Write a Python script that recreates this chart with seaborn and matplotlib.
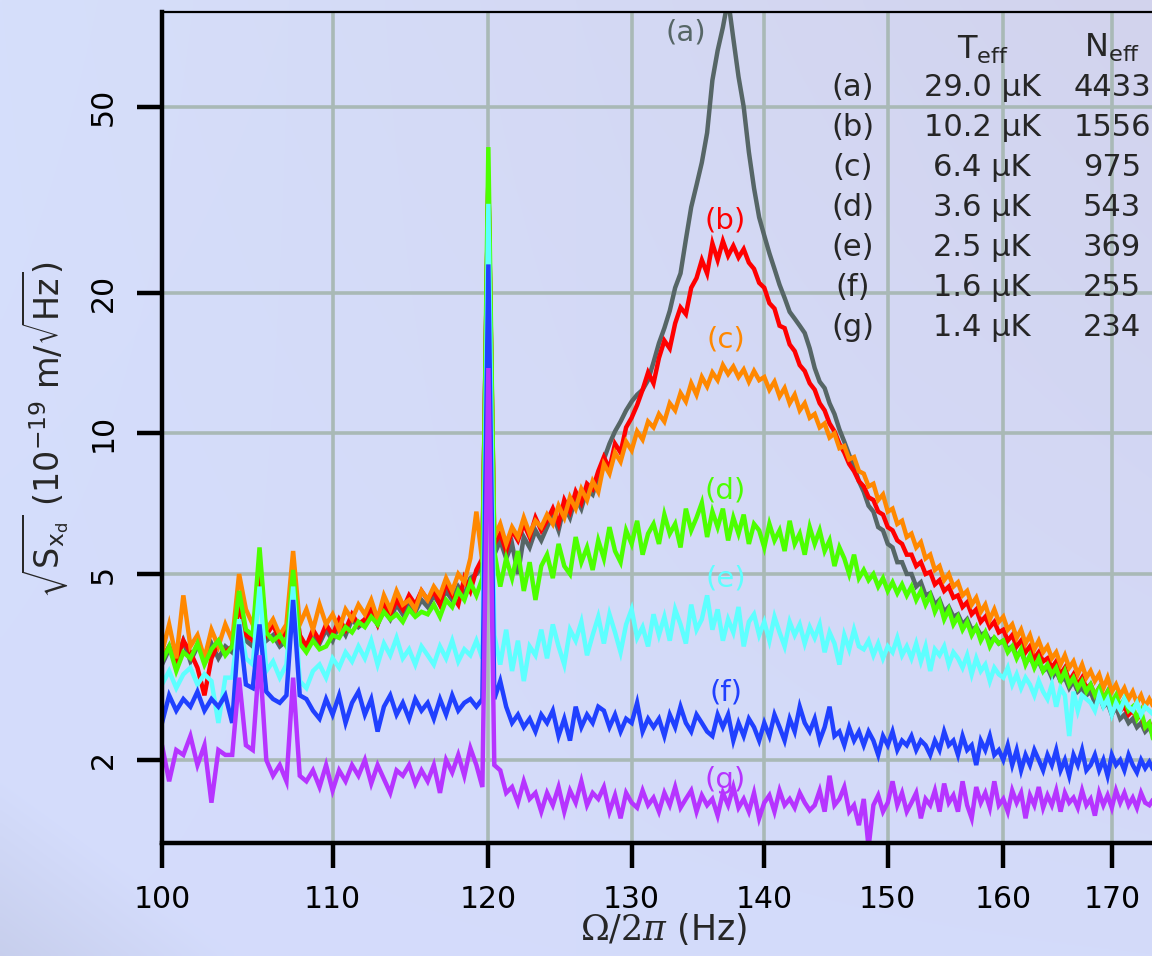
import numpy as np
import pandas as pd
import seaborn as sns
import matplotlib.pyplot as plt
from matplotlib.ticker import NullLocator

# ── Data ──────────────────────────────────────────────────────────────────────
# displacement spectra sampled on a 0.4 Hz grid, 100 … 174 Hz
freq = np.round(np.arange(100.0, 174.01, 0.4), 1)

spec_a = [
    3.2, 3.45, 3.3, 3.6, 3.25, 3.5, 3.35, 3.55, 3.3, 3.5,
    3.4, 4.4, 3.6, 3.5, 5.0, 3.6, 3.7, 3.5, 3.6, 4.9,
    3.6, 3.45, 3.7, 3.55, 3.8, 3.6, 3.9, 3.7, 4.0, 3.85,
    3.95, 4.15, 3.9, 4.2, 4.0, 4.3, 4.1, 4.35, 4.15, 4.4,
    4.25, 4.5, 4.3, 4.6, 4.4, 4.7, 4.5, 4.9, 5.0, 5.2,
    35.0, 5.5, 5.9, 5.4, 5.8, 5.0, 6.0, 5.7, 6.2, 5.9,
    6.3, 6.7, 6.2, 7.0, 6.6, 7.3, 6.9, 7.6, 7.4, 8.1,
    8.8, 9.5, 10.1, 10.6, 11.2, 11.7, 12.1, 12.4, 13.0, 14.2,
    15.6, 16.8, 18.3, 20.5, 22.0, 26.0, 30.5, 34.0, 38.0, 44.0,
    57.0, 66.0, 74.0, 85.0, 70.0, 58.0, 50.0, 40.0, 33.5, 29.0,
    26.5, 24.3, 22.5, 20.8, 19.5, 18.2, 17.6, 17.0, 16.4, 15.2,
    13.8, 12.9, 12.5, 11.6, 11.0, 10.2, 9.6, 9.0, 8.5, 7.9,
    7.5, 7.0, 6.8, 6.3, 6.2, 5.8, 5.7, 5.3, 5.3, 5.0,
    5.0, 4.7, 4.8, 4.5, 4.55, 4.3, 4.4, 4.15, 4.25, 4.05,
    4.1, 3.9, 4.0, 3.8, 3.85, 3.7, 3.75, 3.6, 3.65, 3.55,
    3.6, 3.45, 3.5, 3.35, 3.4, 3.25, 3.3, 3.2, 3.25, 3.1,
    3.15, 3.0, 3.1, 2.95, 3.0, 2.85, 2.95, 2.8, 2.85, 2.75,
    2.8, 2.65, 2.75, 2.6, 2.65, 2.5, 2.6, 2.45, 2.5, 2.4,
    2.45, 2.35, 2.4, 2.3, 2.35, 2.25,
]
spec_b = [
    3.3, 3.5, 3.2, 3.6, 3.4, 3.15, 2.75, 3.3, 3.55, 3.4,
    3.5, 4.3, 3.7, 3.6, 5.3, 3.7, 3.9, 3.6, 3.8, 4.8,
    3.7, 3.5, 3.8, 3.6, 3.9, 3.7, 4.0, 3.8, 4.1, 3.9,
    4.0, 4.2, 3.9, 4.3, 4.1, 4.4, 4.2, 4.5, 4.3, 4.6,
    4.4, 4.6, 4.3, 4.8, 4.5, 4.3, 4.9, 4.6, 5.1, 5.4,
    35.0, 5.8, 6.1, 5.6, 6.2, 5.9, 6.4, 6.0, 6.6, 6.2,
    6.5, 6.9, 6.4, 7.2, 6.8, 7.5, 7.1, 7.8, 7.6, 8.3,
    8.9, 8.4, 9.5, 9.1, 10.3, 10.8, 11.5, 12.4, 13.5, 12.8,
    14.5, 15.8, 15.2, 17.2, 18.6, 18.0, 20.5, 21.5, 23.5, 22.0,
    25.5, 23.5, 25.8, 24.0, 25.2, 23.8, 24.8, 23.2, 22.5, 21.0,
    20.5, 19.0, 18.5, 17.0, 16.8, 15.5, 15.0, 14.0, 13.6, 12.8,
    12.4, 11.6, 11.2, 10.5, 10.1, 9.5, 9.1, 8.6, 8.3, 7.9,
    7.7, 7.3, 7.2, 6.8, 6.7, 6.3, 6.2, 5.9, 5.8, 5.5,
    5.5, 5.2, 5.3, 5.0, 5.05, 4.75, 4.85, 4.6, 4.7, 4.45,
    4.5, 4.25, 4.35, 4.1, 4.2, 3.95, 4.05, 3.85, 3.95, 3.75,
    3.8, 3.6, 3.7, 3.5, 3.6, 3.4, 3.5, 3.3, 3.4, 3.25,
    3.3, 3.15, 3.25, 3.05, 3.15, 2.95, 3.05, 2.9, 3.0, 2.85,
    2.9, 2.75, 2.85, 2.7, 2.8, 2.6, 2.7, 2.55, 2.6, 2.5,
    2.55, 2.45, 2.5, 2.35, 2.4, 2.3,
]
spec_c = [
    3.4, 3.9, 3.3, 4.5, 3.5, 3.7, 3.3, 3.8, 3.5, 3.9,
    3.6, 5.0, 4.2, 3.9, 4.5, 3.8, 4.0, 3.7, 3.9, 5.6,
    3.9, 4.2, 3.8, 4.3, 3.9, 4.1, 3.8, 4.2, 4.0, 4.3,
    4.1, 4.4, 4.0, 4.5, 4.2, 4.6, 4.3, 4.4, 4.2, 4.6,
    4.4, 4.7, 4.5, 4.9, 4.6, 5.0, 4.8, 5.4, 6.8, 5.3,
    35.0, 6.0, 6.4, 5.8, 6.3, 6.0, 6.6, 6.1, 6.5, 6.3,
    6.7, 6.4, 7.0, 6.6, 7.3, 6.9, 7.6, 7.2, 7.9, 7.5,
    8.6, 8.2, 9.1, 8.7, 9.6, 9.2, 10.1, 9.7, 10.6, 10.3,
    11.0, 10.6, 11.6, 11.2, 12.2, 11.7, 12.8, 12.1, 13.2, 12.6,
    13.5, 13.0, 14.0, 13.4, 13.9, 13.2, 13.7, 12.9, 13.6, 13.0,
    13.2, 12.4, 12.9, 12.0, 12.5, 11.6, 12.1, 11.2, 11.6, 10.8,
    11.0, 10.3, 10.5, 9.8, 10.0, 9.3, 9.4, 8.8, 8.9, 8.3,
    8.2, 7.7, 7.8, 7.2, 7.4, 6.8, 6.9, 6.4, 6.5, 6.0,
    6.1, 5.7, 5.85, 5.4, 5.5, 5.1, 5.2, 4.85, 5.0, 4.7,
    4.8, 4.5, 4.6, 4.3, 4.45, 4.15, 4.3, 4.0, 4.2, 3.95,
    4.05, 3.8, 3.9, 3.65, 3.8, 3.55, 3.7, 3.45, 3.6, 3.4,
    3.5, 3.3, 3.4, 3.2, 3.35, 3.15, 3.25, 3.05, 3.2, 3.0,
    3.1, 2.95, 3.05, 2.85, 3.0, 2.8, 2.9, 2.75, 2.85, 2.7,
    2.8, 2.65, 2.75, 2.6, 2.7, 2.6,
]
spec_d = [
    3.25, 3.5, 3.1, 3.4, 3.3, 3.55, 3.2, 3.45, 3.6, 3.35,
    3.5, 4.6, 3.8, 3.7, 5.7, 3.75, 3.6, 3.7, 3.5, 5.1,
    3.55, 3.4, 3.6, 3.45, 3.5, 3.7, 3.65, 3.85, 3.75, 3.95,
    3.85, 4.05, 3.9, 4.15, 4.0, 4.1, 3.95, 4.2, 4.05, 4.15,
    4.1, 4.3, 4.05, 4.4, 4.25, 4.6, 4.4, 4.8, 4.5, 4.9,
    41.0, 5.6, 4.7, 5.4, 4.9, 5.6, 4.6, 5.3, 4.4, 5.2,
    5.5, 4.9, 5.8, 5.2, 5.0, 6.0, 5.3, 5.7, 5.1, 5.9,
    5.4, 6.3, 5.6, 5.3, 6.2, 5.8, 6.5, 5.5, 6.1, 6.4,
    5.8, 6.7, 6.1, 6.4, 5.7, 6.9, 6.2, 6.6, 7.1, 6.0,
    6.8, 6.3, 6.9, 5.9, 6.6, 6.1, 6.7, 5.8, 6.4, 6.2,
    5.7, 6.4, 5.9, 6.2, 5.6, 6.5, 5.8, 6.1, 5.5, 6.3,
    5.8, 6.2, 5.6, 5.9, 5.2, 5.7, 5.4, 5.0, 5.5, 4.9,
    5.1, 4.85, 5.0, 4.7, 4.9, 4.6, 4.8, 4.55, 4.75, 4.5,
    4.7, 4.4, 4.6, 4.3, 4.5, 4.15, 4.35, 4.0, 4.2, 3.9,
    4.05, 3.8, 3.95, 3.7, 3.85, 3.6, 3.75, 3.5, 3.65, 3.55,
    3.6, 3.4, 3.5, 3.3, 3.45, 3.2, 3.35, 3.15, 3.3, 3.1,
    3.2, 3.05, 3.15, 2.95, 3.1, 2.9, 3.0, 2.85, 2.95, 2.8,
    2.9, 2.75, 2.85, 2.7, 2.8, 2.65, 2.75, 2.6, 2.7, 2.55,
    2.6, 2.45, 2.55, 2.35, 2.4, 2.2,
]
spec_e = [
    2.9, 3.1, 2.85, 3.05, 3.15, 2.9, 3.05, 2.95, 2.4, 3.0,
    3.0, 4.0, 3.3, 3.2, 4.7, 3.1, 3.25, 3.0, 3.2, 4.7,
    2.95, 2.85, 3.1, 3.2, 3.0, 3.3, 3.15, 3.4, 3.25, 3.5,
    3.3, 3.6, 3.2, 3.55, 3.35, 3.65, 3.3, 3.45, 3.2, 3.5,
    3.35, 3.2, 3.5, 3.3, 3.6, 3.25, 3.45, 3.35, 3.6, 3.3,
    31.0, 3.7, 3.2, 3.8, 3.1, 3.6, 2.95, 3.5, 3.35, 3.8,
    3.3, 3.9, 3.5, 3.2, 3.8, 3.6, 3.95, 3.35, 3.7, 4.05,
    3.55, 4.1, 3.75, 3.4, 3.9, 4.2, 3.65, 3.85, 3.5, 4.1,
    3.7, 4.05, 3.6, 4.2, 3.9, 3.55, 4.3, 3.8, 4.0, 4.5,
    3.8, 4.2, 3.6, 4.0, 3.75, 4.25, 3.5, 3.95, 4.1, 3.7,
    3.95, 3.6, 4.05, 3.75, 3.5, 3.95, 3.7, 3.9, 3.55, 3.85,
    3.65, 3.9, 3.4, 3.75, 3.55, 3.2, 3.7, 3.45, 3.8, 3.5,
    3.45, 3.6, 3.35, 3.55, 3.3, 3.5, 3.4, 3.65, 3.35, 3.5,
    3.3, 3.55, 3.25, 3.5, 3.1, 3.45, 3.35, 3.5, 3.2, 3.4,
    3.3, 3.15, 3.35, 3.05, 3.3, 3.1, 3.2, 2.95, 3.15, 3.05,
    3.0, 3.15, 2.9, 3.05, 2.85, 3.0, 2.9, 2.75, 2.95, 2.8,
    2.7, 2.9, 2.6, 2.85, 2.75, 2.25, 2.8, 2.55, 2.75, 2.7,
    2.65, 2.55, 2.75, 2.6, 2.7, 2.5, 2.65, 2.55, 2.7, 2.6,
    2.55, 2.65, 2.5, 2.6, 2.55, 2.5,
]
spec_f = [
    2.4, 2.75, 2.55, 2.7, 2.6, 2.8, 2.55, 2.7, 2.6, 2.75,
    2.4, 3.9, 2.9, 2.85, 3.9, 2.8, 2.7, 2.65, 2.75, 4.4,
    2.75, 2.7, 2.55, 2.45, 2.7, 2.5, 2.75, 2.4, 2.65, 2.8,
    2.5, 2.7, 2.3, 2.6, 2.75, 2.5, 2.65, 2.45, 2.7, 2.55,
    2.65, 2.45, 2.7, 2.5, 2.75, 2.55, 2.65, 2.7, 2.6, 2.7,
    23.0, 2.7, 2.95, 2.6, 2.4, 2.5, 2.35, 2.45, 2.3, 2.5,
    2.4, 2.55, 2.25, 2.45, 2.2, 2.6, 2.35, 2.5, 2.4, 2.6,
    2.55, 2.35, 2.5, 2.3, 2.45, 2.4, 2.65, 2.3, 2.45, 2.35,
    2.45, 2.25, 2.5, 2.35, 2.6, 2.4, 2.3, 2.5, 2.4, 2.3,
    2.25, 2.5, 2.35, 2.5, 2.2, 2.4, 2.25, 2.45, 2.35, 2.2,
    2.4, 2.25, 2.5, 2.35, 2.2, 2.45, 2.3, 2.6, 2.4, 2.3,
    2.45, 2.2, 2.35, 2.6, 2.25, 2.3, 2.15, 2.35, 2.2, 2.3,
    2.15, 2.3, 2.2, 2.05, 2.25, 2.15, 2.3, 2.1, 2.2, 2.15,
    2.25, 2.1, 2.2, 2.15, 2.05, 2.2, 2.1, 2.3, 2.15, 2.2,
    2.05, 2.25, 2.1, 2.15, 1.95, 2.2, 2.1, 2.25, 2.05, 2.1,
    2.0, 2.15, 1.95, 2.1, 1.9, 2.05, 1.95, 2.1, 2.0, 1.9,
    2.05, 1.95, 2.1, 1.9, 2.0, 1.85, 2.05, 1.95, 2.1, 1.9,
    1.95, 2.05, 1.9, 2.0, 1.85, 2.05, 1.95, 2.0, 1.9, 2.05,
    1.95, 1.88, 2.0, 1.92, 1.98, 1.9,
]
spec_g = [
    2.15, 1.8, 2.1, 2.05, 2.25, 1.95, 2.15, 1.62, 2.1, 2.05,
    2.05, 3.0, 2.15, 2.1, 3.35, 2.0, 1.85, 1.95, 1.8, 3.0,
    1.85, 1.8, 1.9, 1.75, 1.95, 1.72, 1.9, 1.8, 1.95, 1.85,
    2.0, 1.78, 1.95, 1.82, 1.7, 1.9, 1.85, 1.95, 1.78, 1.9,
    1.8, 1.95, 1.7, 2.0, 1.88, 2.05, 1.85, 2.12, 1.95, 1.75,
    13.8, 1.95, 1.9, 1.7, 1.75, 1.62, 1.8, 1.65, 1.7, 1.55,
    1.7, 1.6, 1.75, 1.55, 1.72, 1.62, 1.8, 1.6, 1.7, 1.65,
    1.75, 1.55, 1.68, 1.5, 1.7, 1.62, 1.58, 1.72, 1.6, 1.66,
    1.55, 1.7, 1.6, 1.75, 1.58, 1.65, 1.72, 1.55, 1.68, 1.6,
    1.65, 1.52, 1.7, 1.6, 1.75, 1.58, 1.65, 1.55, 1.7, 1.5,
    1.62, 1.68, 1.55, 1.72, 1.6, 1.65, 1.58, 1.7, 1.62, 1.56,
    1.6, 1.72, 1.55, 1.85, 1.6, 1.65, 1.75, 1.55, 1.6, 1.45,
    1.65, 1.3, 1.6, 1.68, 1.55, 1.62, 1.8, 1.6, 1.7, 1.55,
    1.62, 1.7, 1.5, 1.65, 1.6, 1.72, 1.55, 1.78, 1.62, 1.68,
    1.55, 1.8, 1.6, 1.5, 1.75, 1.62, 1.7, 1.58, 1.8, 1.6,
    1.65, 1.55, 1.72, 1.62, 1.7, 1.5, 1.68, 1.6, 1.75, 1.58,
    1.68, 1.6, 1.72, 1.55, 1.7, 1.62, 1.66, 1.58, 1.72, 1.6,
    1.65, 1.52, 1.7, 1.6, 1.68, 1.58, 1.72, 1.62, 1.7, 1.6,
    1.66, 1.58, 1.7, 1.62, 1.6, 1.65,
]

curve_keys   = ["a", "b", "c", "d", "e", "f", "g"]
curve_colors = ["#566666", "#ff0000", "#ff8800", "#4cff00", "#5effff", "#2040ff", "#b634ff"]
row_tags = ["(a)", "(b)", "(c)", "(d)", "(e)", "(f)", "(g)"]
t_eff    = ["29.0 μK", "10.2 μK", "6.4 μK", "3.6 μK", "2.5 μK", "1.6 μK", "1.4 μK"]
n_eff    = ["4433", "1556", "975", "543", "369", "255", "234"]
x_ticks  = [100, 110, 120, 130, 140, 150, 160, 170]
y_ticks  = [2, 5, 10, 20, 50]

spectra = [spec_a, spec_b, spec_c, spec_d, spec_e, spec_f, spec_g]
df = pd.concat(
    [pd.DataFrame({"freq": freq[:len(s)], "value": s, "curve": k})
     for k, s in zip(curve_keys, spectra)],
    ignore_index=True,
)

# ── Style ─────────────────────────────────────────────────────────────────────
sns.set_style("ticks")
plt.rcParams["font.family"] = ["DejaVu Sans"]
plt.rcParams["mathtext.fontset"] = "dejavusans"

W, H = 1152, 956
fig = plt.figure(figsize=(W / 100, H / 100), dpi=100)

# soft background gradient (light blue, lavender towards the top right)
bg = fig.add_axes([0, 0, 1, 1], zorder=-10)
yy, xx = np.mgrid[0:1:240j, 0:1:288j]
tl = np.array([214, 223, 251]); tr = np.array([210, 211, 237])
bl = np.array([212, 220, 252]); br = np.array([212, 219, 250])
img = (tl * ((1 - xx) * (1 - yy))[..., None] + tr * (xx * (1 - yy))[..., None]
       + bl * ((1 - xx) * yy)[..., None] + br * (xx * yy)[..., None])
corner = np.clip(1 - (xx * W + (1 - yy) * H * 1.3) / 230, 0, 1)
img = img * (1 - 0.06 * corner)[..., None]
bg.imshow(img / 255, aspect="auto", extent=[0, 1, 0, 1], interpolation="bilinear")
bg.set_axis_off()

ax = fig.add_axes([162 / W, 1 - 843 / H, (W - 162) / W, (843 - 12) / H])
ax.patch.set_alpha(0)

sns.lineplot(
    data=df, x="freq", y="value", hue="curve", hue_order=curve_keys,
    palette=dict(zip(curve_keys, curve_colors)), estimator=None, sort=False,
    linewidth=3.2, legend=False, ax=ax,
)
for ln in ax.lines:
    ln.set_solid_joinstyle("miter")

ax.set_xscale("log")
ax.set_yscale("log")
ax.set_xlim(100, 173.86)
ax.set_ylim(1.328, 79.8)
ax.set_xticks(x_ticks)
ax.set_xticklabels([str(t) for t in x_ticks])
ax.set_yticks(y_ticks)
ax.set_yticklabels([str(t) for t in y_ticks], rotation=90, va="center")
ax.xaxis.set_minor_locator(NullLocator())
ax.yaxis.set_minor_locator(NullLocator())

ax.set_axisbelow(True)
ax.grid(True, which="major", color="#a9b9b6", linewidth=2.6)
ax.tick_params(direction="out", length=18, width=3.2, labelsize=21.5, colors="black")
ax.tick_params(axis="x", pad=12)
ax.tick_params(axis="y", pad=14)
for side in ("left", "bottom"):
    ax.spines[side].set_linewidth(3.2)
ax.spines["top"].set_linewidth(1.6)
ax.spines["right"].set_visible(False)
for side in ("left", "bottom", "top"):
    ax.spines[side].set_color("black")

ax.set_xlabel(r"$\Omega/2\pi$ (Hz)", fontsize=25, math_fontfamily="dejavuserif")
ax.xaxis.set_label_coords(0.507, -0.082)
ax.set_ylabel(r"$\sqrt{\mathrm{S}_{\mathrm{x_d}}}\ (10^{-19}\ \mathrm{m}/\sqrt{\mathrm{Hz}})$", fontsize=24)
ax.yaxis.set_label_coords(-0.092, 0.497)

# curve tags next to the spectra
tag_pos = [(134.0, 72), (137.0, 28.6), (137.0, 15.9), (137.0, 7.56),
           (137.0, 4.9), (137.0, 2.79), (137.0, 1.81)]
for tag, (tx, ty), col in zip(row_tags, tag_pos, curve_colors):
    ax.text(tx, ty, tag, color=col, fontsize=21, ha="center", va="center")

# table of effective temperature and occupation
def fx(px):
    return px / W

def fy(py):
    return 1 - py / H

fig.text(fx(983), fy(50), r"$\mathrm{T_{eff}}$", fontsize=23, ha="center", va="center")
fig.text(fx(1112), fy(48), r"$\mathrm{N_{eff}}$", fontsize=23, ha="center", va="center")
for i, (tag, t, n) in enumerate(zip(row_tags, t_eff, n_eff)):
    y = fy(88 + 40 * i)
    fig.text(fx(853), y, tag, fontsize=22, ha="center", va="center")
    fig.text(fx(982), y, t, fontsize=22, ha="center", va="center")
    fig.text(fx(1112), y, n, fontsize=22, ha="center", va="center")

fig.savefig("out.png", dpi=100)
